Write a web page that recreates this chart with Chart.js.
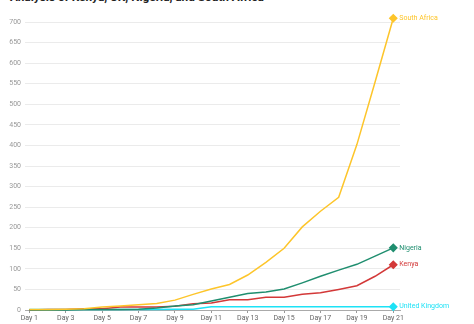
<!DOCTYPE html>
<html>
<head>
<meta charset="utf-8">
<script src="https://cdn.jsdelivr.net/npm/chart.js@4"></script>
<style>
    html, body { margin: 0; padding: 0; background: #fff; overflow: hidden; }
    #wrap { position: relative; width: 474px; height: 324px; }
    #title {
        position: absolute; left: 10px; top: -10px; margin: 0;
        font: bold 11.8px Roboto, sans-serif; color: #222; white-space: nowrap;
    }
    canvas { position: absolute; left: 0; top: 0; }
</style>
</head>
<body>
<div id="wrap">
    <h1 id="title">Analysis of Kenya, UK, Nigeria, and South Africa</h1>
    <canvas id="casesChart" width="474" height="324"></canvas>
</div>
<script>
// Días y casos por país
const days = [1, 2, 3, 4, 5, 6, 7, 8, 9, 10, 11, 12, 13, 14, 15, 16, 17, 18, 19, 20, 21];
const southAfrica = [1, 1, 2, 3, 7, 10, 13, 16, 24, 38, 51, 62, 85, 116, 150, 202, 240, 274, 402, 554, 709];
const nigeria = [0, 0, 0, 1, 1, 1, 2, 5, 10, 13, 22, 31, 40, 44, 51, 66, 82, 97, 111, 131, 151];
const kenya = [0, 1, 1, 3, 3, 7, 7, 7, 9, 15, 17, 25, 25, 31, 31, 38, 42, 50, 59, 82, 110];
const unitedKingdom = [1, 1, 1, 1, 1, 1, 1, 1, 2, 2, 8, 8, 8, 8, 8, 8, 8, 8, 8, 8, 8];
const dayTicks = [1, 3, 5, 7, 9, 11, 13, 15, 17, 19, 21];

const series = [
    { label: 'South Africa', data: southAfrica, color: '#fdc52a' },
    { label: 'Nigeria', data: nigeria, color: '#1f8e6f' },
    { label: 'Kenya', data: kenya, color: '#d33838' },
    { label: 'United Kingdom', data: unitedKingdom, color: '#1de2f6' }
];

// etiqueta con el nombre al final de cada línea
const endLabels = {
    id: 'endLabels',
    afterDatasetsDraw(chart) {
        const ctx = chart.ctx;
        ctx.save();
        ctx.font = '7px Roboto, sans-serif';
        ctx.textBaseline = 'middle';
        ctx.textAlign = 'left';
        chart.data.datasets.forEach((ds, i) => {
            const pts = chart.getDatasetMeta(i).data;
            const last = pts[pts.length - 1];
            ctx.fillStyle = ds.borderColor;
            ctx.fillText(ds.label, last.x + 6, last.y);
        });
        ctx.restore();
    }
};

new Chart(document.getElementById('casesChart'), {
    type: 'line',
    data: {
        datasets: series.map(s => ({
            label: s.label,
            data: s.data.map((v, i) => ({ x: days[i], y: v })),
            borderColor: s.color,
            backgroundColor: s.color,
            borderWidth: 1.5,
            tension: 0,
            clip: false,
            pointStyle: 'rectRot',
            pointRadius: ctx => ctx.dataIndex === days.length - 1 ? 3.5 : 0,
            pointHoverRadius: 0
        }))
    },
    options: {
        responsive: false,
        animation: false,
        layout: { padding: { top: 22, right: 74, left: 0, bottom: 0 } },
        plugins: {
            legend: { display: false },
            tooltip: { enabled: false }
        },
        scales: {
            x: {
                type: 'linear',
                min: 0.76,
                max: 21.37,
                afterBuildTicks: scale => { scale.ticks = dayTicks.map(v => ({ value: v })); },
                afterFit: scale => { scale.height = 14; },
                grid: { drawOnChartArea: false, drawTicks: true, tickLength: 3, color: '#999' },
                border: { color: '#aaa', width: 1 },
                ticks: {
                    autoSkip: false,
                    maxRotation: 0,
                    padding: 1,
                    color: '#666',
                    font: { family: 'Roboto', size: 7 },
                    callback: v => 'Day ' + v
                }
            },
            y: {
                min: 0,
                max: 700,
                afterFit: scale => { scale.width = 25; },
                grid: { color: '#ebebeb', drawTicks: false },
                border: { display: false },
                ticks: {
                    stepSize: 50,
                    padding: 4,
                    color: '#999',
                    font: { family: 'Roboto', size: 7 }
                }
            }
        }
    },
    plugins: [endLabels]
});
</script>
</body>
</html>
